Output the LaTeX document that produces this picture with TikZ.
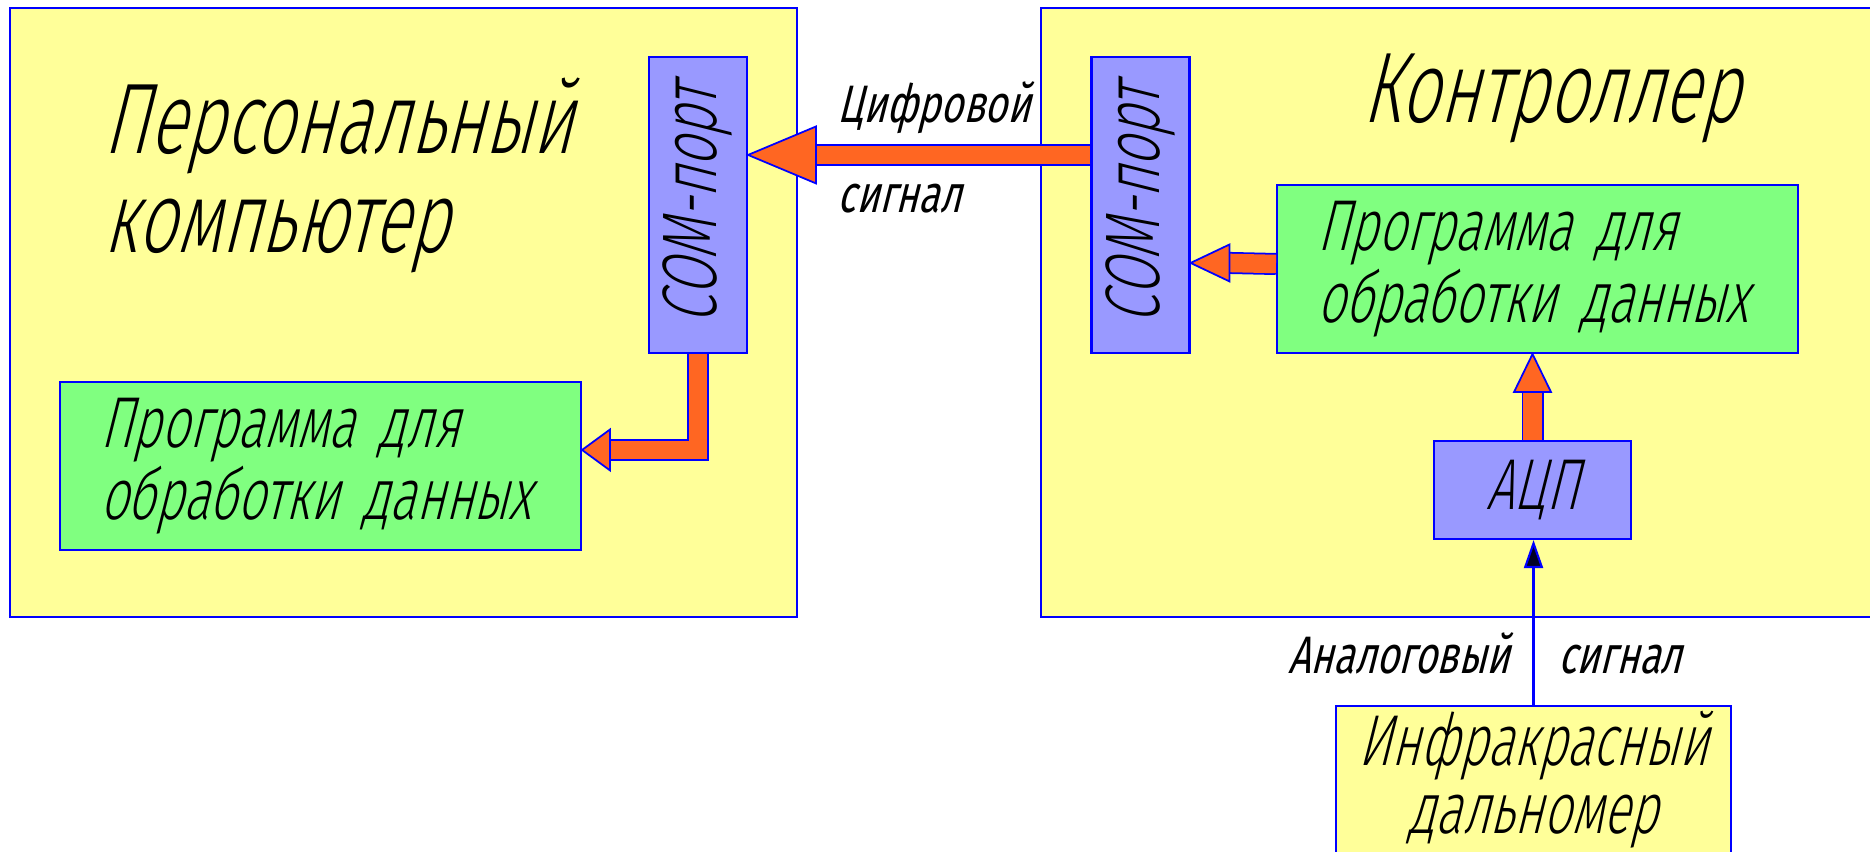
\documentclass[tikz,border=0pt]{standalone}
\usepackage{fontspec}
\usepackage{graphicx}
\setmainfont{Fira Sans}
\newfontfamily\gost{Fira Sans Light}[FakeSlant=0.25,FakeStretch=0.68]
\newfontfamily\gostbold{Fira Sans}[FakeSlant=0.25,FakeStretch=0.73]
\usepackage{tikz}
\usetikzlibrary{arrows.meta,positioning,calc}
\definecolor{edge}{RGB}{0,0,255}
\definecolor{paper}{RGB}{255,255,153}
\definecolor{portfill}{RGB}{153,153,255}
\definecolor{progfill}{RGB}{128,255,128}
\definecolor{flow}{RGB}{255,102,34}

\begin{document}
\begin{tikzpicture}[x=0.1mm, y=-0.1mm, font=\gost,
  unit/.style={draw=edge, line width=0.6pt, fill=paper, inner sep=0pt},
  port/.style={unit, fill=portfill, minimum width=9.8mm, minimum height=29.6mm,
               font=\gost\fontsize{22pt}{22pt}\selectfont},
  prog/.style={unit, fill=progfill, text width=44.1mm, inner xsep=4mm, minimum height=16.8mm,
               align=left, font=\gost\fontsize{20.5pt}{19pt}\selectfont},
  title/.style={inner sep=0pt, align=left, font=\gost\fontsize{28.5pt}{28.1pt}\selectfont},
  lbl/.style={inner sep=0pt, font=\gostbold\fontsize{15pt}{15pt}\selectfont},
  shaft/.style={draw=edge, line width=0.5pt, double=flow, double distance=1.85mm, line join=miter},
  head/.style={draw=edge, line width=0.5pt, fill=flow, line join=miter},
  sig/.style={draw=edge, line width=0.6pt, -{Triangle[width=1.9mm, length=2.8mm, fill=black!85!blue]}}]
\useasboundingbox (0,0) rectangle (1870,851);

% the two units
\node[unit, minimum width=78.7mm, minimum height=60.9mm] (pc) at (403.5,312.5) {};
\node[unit, minimum width=83.9mm, minimum height=60.9mm] (mcu) at (1460.5,312.5) {};
\node[title, anchor=base west] (pcname) at (103,252) {Персональный\\компьютер};
\node[title, anchor=base west] (mcuname) at (1362,123) {Контроллер};

% ports and programs
\node[port] (comL) at (698,205) {\rotatebox{90}{COM-порт}};
\node[port] (comR) at (1140.5,205) {\rotatebox{90}{COM-порт}};
\node[prog] (progL) at (320.5,466) {Программа для\\обработки данных};
\node[prog] (progR) at (1537.5,269) {Программа для\\обработки данных};
\node[unit, fill=portfill, minimum width=19.7mm, minimum height=9.8mm,
      font=\gost\fontsize{20.5pt}{20pt}\selectfont] (adc) at (1532.5,490) {АЦП};
\node[unit, minimum width=39.5mm, minimum height=14.8mm, align=center,
      font=\gost\fontsize{20.5pt}{19.3pt}\selectfont] (ir) at (1533.5,780) {Инфракрасный\\дальномер};

% digital link between the COM ports
\draw[shaft] ($(comR.north west)+(0,99)$) -- ($(comL.north east)+(68,99)$);
\filldraw[head] ($(comL.north east)+(0,99)$) -- ++(68,-28.5) -- ++(0,57) -- cycle;
\node[lbl, anchor=base west] (digA) at (837,122) {Цифровой};
\node[lbl, anchor=base west] (digB) at (837,213) {сигнал};

% PC side: port -> program
\draw[shaft] (comL.south) |- ($(progL.north east)+(28,69)$);
\filldraw[head] ($(progL.north east)+(0,69)$) -- ++(28,-20.5) -- ++(0,41) -- cycle;

% controller side
\draw[shaft] ($(progR.west)+(0,-5)$) -- ($(comR.north east)+(39,207)$);
\filldraw[head] ($(comR.north east)+(0,207)$) -- ++(39,-18.5) -- ++(0,37) -- cycle;
\draw[shaft] (adc.north) -- ++(0,-50);
\filldraw[head] (adc.north |- progR.south) -- ++(-18.5,38) -- ++(37,0) -- cycle;

% analog input from the sensor
\draw[sig] (ir.north) -- (ir.north |- adc.south);
\node[lbl, anchor=base east] (anA) at ($(ir.north)+(-23,-31)$) {Аналоговый};
\node[lbl, anchor=base west] (anB) at ($(ir.north)+(24,-31)$) {сигнал};
\end{tikzpicture}
\end{document}
